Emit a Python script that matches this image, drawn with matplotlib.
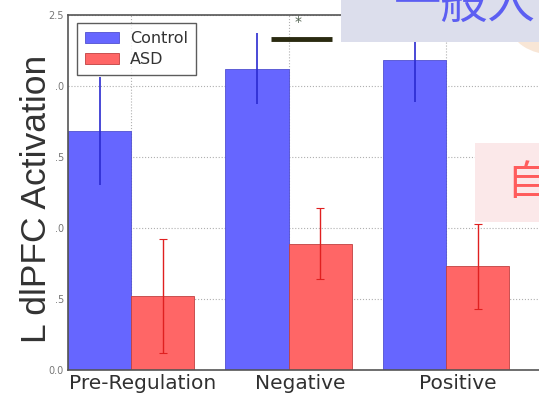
import matplotlib
matplotlib.use("Agg")
import matplotlib.pyplot as plt
import numpy as np
from matplotlib.patches import Rectangle, Ellipse

conditions = ["Pre-Regulation", "Negative", "Positive"]
control_vals = [1.68, 2.12, 2.18]
control_err = [0.38, 0.25, 0.29]
asd_vals = [0.52, 0.89, 0.73]
asd_err = [0.40, 0.25, 0.30]
ytick_vals = [0.0, 0.5, 1.0, 1.5, 2.0, 2.5]
ytick_labels = ["0.0", ".5", ".0", ".5", ".0", "2.5"]

W, H = 539, 394
fig = plt.figure(figsize=(W / 100, H / 100), dpi=100)
ax = fig.add_axes([68 / W, 1 - 370 / H, 472.5 / W, 355 / H])

ind = np.arange(len(conditions))
width = 0.4
ax.set_axisbelow(True)
ax.bar(ind + width / 2, control_vals, width, color="#6666ff",
       edgecolor="#5050d0", linewidth=0.6, label="Control")
ax.errorbar(ind + width / 2, control_vals, yerr=control_err, fmt="none",
            ecolor="#2a2ad0", elinewidth=1.2, capsize=0)
ax.bar(ind + 1.5 * width, asd_vals, width, color="#ff6666",
       edgecolor="#c04040", linewidth=0.6, label="ASD")
ax.errorbar(ind + 1.5 * width, asd_vals, yerr=asd_err, fmt="none",
            ecolor="#e02020", elinewidth=1.0, capsize=3, capthick=0.8)

ax.set_xlim(0, 3)
ax.set_ylim(0, 2.5)
ax.set_xticks(ind + width + 0.075)
ax.set_xticklabels(conditions, fontsize=14.5, color="#303030",
                   family="DejaVu Sans")
ax.set_xticks(ind + width, minor=True)
ax.grid(True, axis="x", which="minor", color="#b0b0b0", linestyle=":",
        linewidth=0.8)
ax.grid(True, axis="y", which="major", color="#b0b0b0", linestyle=":",
        linewidth=0.8)
ax.set_yticks(ytick_vals)
ax.set_yticklabels(ytick_labels, fontsize=7, color="#777777")
ax.tick_params(axis="both", which="both", length=0, pad=3)
ax.tick_params(axis="x", pad=3)
for s in ax.spines.values():
    s.set_color("#555555")
    s.set_linewidth(1.2)
ax.set_ylabel("L dlPFC Activation", fontsize=25.5, color="#333333",
              family="Liberation Sans")
ax.yaxis.set_label_coords((53 - 68) / 472.5, (370 - 199) / 355)

leg = ax.legend(loc="upper left", fontsize=11.5, frameon=True, fancybox=False,
                borderpad=0.5, handlelength=2.1, handleheight=0.7,
                handletextpad=0.7, labelspacing=0.35,
                bbox_to_anchor=(0.019, 0.977), borderaxespad=0)
leg.get_frame().set_edgecolor("#333333")
leg.get_frame().set_linewidth(1.0)
for t in leg.get_texts():
    t.set_color("#333333")

# significance marker
ax.plot([(271 - 68) / 157.5, (332 - 68) / 157.5], [2.33, 2.33],
        color="#2a2a10", lw=3.5, solid_capstyle="butt", clip_on=False)
ax.text((298 - 68) / 157.5, 2.45, "*", ha="center", va="center",
        fontsize=10, color="#50604f")

# overlays
fig.patches.append(Ellipse((555 / W, 1 - 25 / H), 90 / W, 60 / H,
                           transform=fig.transFigure, facecolor="#f8e6d6",
                           edgecolor="none"))
fig.patches.append(Rectangle((341 / W, 1 - 42 / H), 200 / W, 42 / H,
                             transform=fig.transFigure, facecolor="#dcdeec",
                             edgecolor="none"))
fig.text(394 / W, 1 - 5 / H, "一般人", fontsize=34, color="#5c5ef2",
         family=["Noto Sans CJK JP"], ha="left", va="center")
fig.patches.append(Rectangle((475 / W, 1 - 222 / H), 70 / W, 79 / H,
                             transform=fig.transFigure, facecolor="#fbe8e9",
                             edgecolor="none"))
fig.text(506 / W, 1 - 183 / H, "自", fontsize=30, color="#ff5c5c",
         family=["Noto Sans CJK JP"], ha="left", va="center")

fig.savefig("out.png", dpi=100)
